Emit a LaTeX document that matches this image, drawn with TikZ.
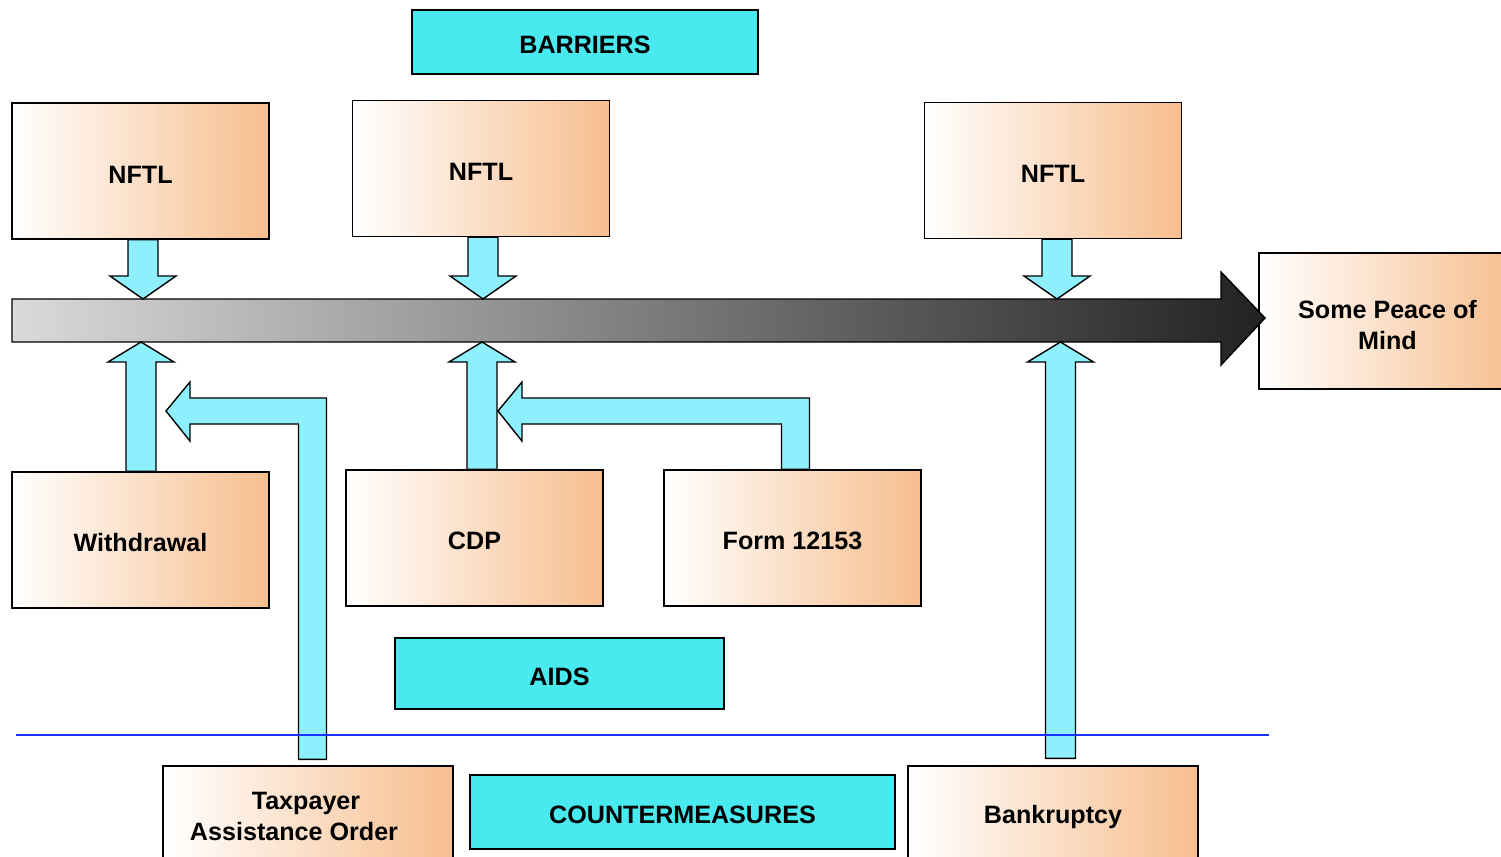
\documentclass[tikz,border=0pt]{standalone}
\usepackage{fontspec}
\setmainfont{Liberation Sans}
\definecolor{PeachColor}{RGB}{247,190,142}
\definecolor{TitleCyan}{RGB}{72,234,240}
\definecolor{ArrowCyan}{RGB}{142,240,253}
\definecolor{BarLight}{RGB}{218,218,218}
\definecolor{BarDark}{RGB}{34,34,34}
\definecolor{LineBlue}{RGB}{25,50,255}
\usetikzlibrary{calc, positioning}

\newcommand{\blockdown}[2]{%
  \draw[blockarrow] ($(#1)+(-15,0)$) -- ($(#1|-#2)+(-15,-23)$) -- ($(#1|-#2)+(-33,-23)$) -- (#1|-#2)
    -- ($(#1|-#2)+(33,-23)$) -- ($(#1|-#2)+(15,-23)$) -- ($(#1)+(15,0)$) -- cycle;}
\newcommand{\blockup}[2]{%
  \draw[blockarrow] ($(#1)+(15,0)$) -- ($(#1|-#2)+(15,20)$) -- ($(#1|-#2)+(33,20)$) -- (#1|-#2)
    -- ($(#1|-#2)+(-33,20)$) -- ($(#1|-#2)+(-15,20)$) -- ($(#1)+(-15,0)$) -- cycle;}
\newcommand{\blockbent}[2]{%
  \draw[blockarrow] ($(#1)+(14,0)$) -- ($(#1|-#2)+(14,-13)$) -- ($(#2)+(24,-13)$) -- ($(#2)+(24,-29)$) -- (#2)
    -- ($(#2)+(24,30)$) -- ($(#2)+(24,13)$) -- ($(#1|-#2)+(-14,13)$) -- ($(#1)+(-14,0)$) -- cycle;}

\begin{document}
\begin{tikzpicture}[x=0.02cm, y=-0.02cm,
    label font/.style={font=\fontsize{14.3}{17.6}\selectfont\bfseries, text height=0.48cm},
    stepbox/.style={draw, line width=0.8pt, left color=white, right color=PeachColor,
      minimum width=5.14cm, minimum height=2.72cm, inner sep=0pt, align=center, label font},
    wide stepbox/.style={stepbox, minimum width=5.8cm, minimum height=1.92cm},
    titlebox/.style={draw, line width=0.8pt, fill=TitleCyan, inner sep=0pt, label font},
    blockarrow/.style={draw, line width=0.8pt, fill=ArrowCyan, line join=miter},
    timeline/.style={draw, line width=0.8pt, left color=BarLight, right color=BarDark},
    divider/.style={draw=LineBlue, line width=0.8pt}]
  \useasboundingbox (0,0) rectangle (1501,856);
  \clip (0,0) rectangle (1501,856);

  \node[titlebox, minimum width=6.92cm, minimum height=1.28cm] (barriers) at (585,42) {BARRIERS};
  \node[stepbox] (nftlA) at (140.5,171) {NFTL};
  \node[stepbox] (nftlB) at (481,168.5) {NFTL};
  \node[stepbox] (nftlC) at (1053,170.5) {NFTL};
  \node[stepbox, text height=1.16cm] (peace) at (1387.5,321) {Some Peace of\\Mind};

  \node[stepbox] (withdrawal) at (140.5,540) {Withdrawal};
  \node[stepbox] (cdp) at (474.5,538) {CDP};
  \node[stepbox] (form) at (792.5,538) {Form 12153};
  \node[titlebox, minimum width=6.58cm, minimum height=1.42cm] (aids) at (559.5,673.5) {AIDS};

  \node[wide stepbox, text height=1.08cm] (tao) at (308,814) {Taxpayer\hspace*{0.08cm}\\Assistance Order\hspace*{0.56cm}};
  \node[titlebox, minimum width=8.5cm, minimum height=1.48cm] (counter) at (682.5,812) {COUNTERMEASURES};
  \node[wide stepbox] (bankruptcy) at (1053,814) {Bankruptcy};

  \shadedraw[timeline] (12,299) coordinate (barTop) -- (1221,299) -- (1221,272) -- (1265,318) coordinate (barTip)
    -- (1221,365) -- (1221,342) -- (12,342) coordinate (barBottom) -- cycle;

  \coordinate (outA) at ($(nftlA.south)+(2.5,0)$);
  \coordinate (outB) at ($(nftlB.south)+(2,0)$);
  \coordinate (outC) at ($(nftlC.south)+(4,0)$);
  \blockdown{outA}{barTop}
  \blockdown{outB}{barTop}
  \blockdown{outC}{barTop}

  \coordinate (inA) at ($(withdrawal.north)+(0.5,0)$);
  \coordinate (inB) at ($(cdp.north)+(7.5,0)$);
  \coordinate (inC) at ($(bankruptcy.north)+(7.5,-7)$);
  \blockup{inA}{barBottom}
  \blockup{inB}{barBottom}
  \blockup{inC}{barBottom}

  \coordinate (taoOut) at ($(tao.north)+(4.5,-6)$);
  \coordinate (taoTip) at (166,411);
  \coordinate (formOut) at ($(form.north)+(3,0)$);
  \coordinate (formTip) at (498,411);
  \blockbent{taoOut}{taoTip}
  \blockbent{formOut}{formTip}

  \draw[divider] (16,735) -- (1269,735);
\end{tikzpicture}
\end{document}
